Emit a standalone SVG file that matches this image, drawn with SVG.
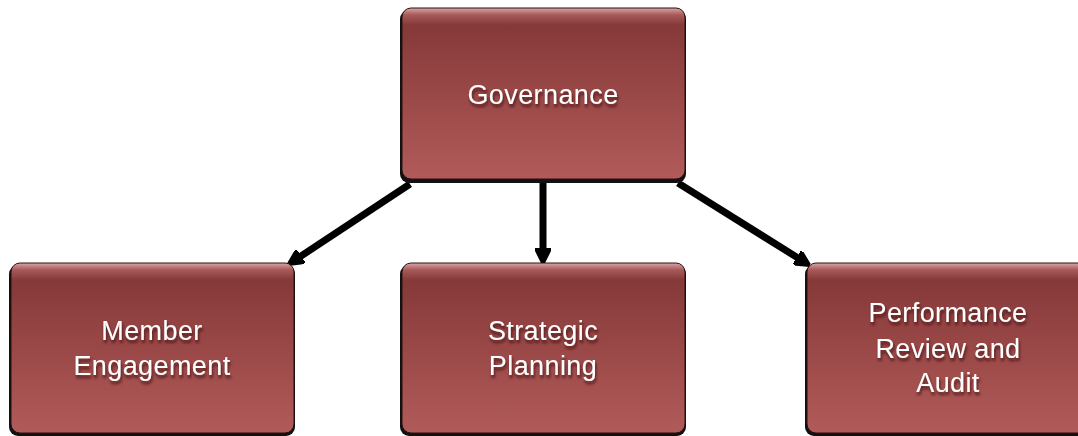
<svg xmlns="http://www.w3.org/2000/svg" width="1078" height="436" viewBox="0 0 1078 436">
<defs>
<linearGradient id="fill" x1="0" y1="0" x2="0" y2="1">
<stop offset="0" stop-color="#d9a5a5"/>
<stop offset="0.04" stop-color="#a85a5a"/>
<stop offset="0.1" stop-color="#863939"/>
<stop offset="1" stop-color="#b15b59"/>
</linearGradient>
<filter id="ts" x="-10%" y="-30%" width="120%" height="160%">
<feDropShadow dx="1" dy="3" stdDeviation="1.5" flood-color="#3a0d0d" flood-opacity="0.8"/>
</filter>
<marker id="ah" viewBox="0 0 10 10" refX="7" refY="5" markerWidth="2.2" markerHeight="2.2" orient="auto" markerUnits="strokeWidth">
<path d="M0,0 L10,5 L0,10 Z" fill="#000" stroke="#000" stroke-width="2" stroke-linejoin="round"/>
</marker>
</defs>
<style>
.sh{fill:#111;}
.bx{fill:url(#fill);stroke:#2a1010;stroke-width:1;}
.tx{fill:#ffffff;font-family:"Liberation Sans",Arial,sans-serif;font-size:27px;letter-spacing:0.4px;text-anchor:middle;filter:url(#ts);}
.cn{stroke:#000;stroke-width:7;fill:none;marker-end:url(#ah);}
</style>
<g id="connectors">
<line class="cn" x1="410" y1="184" x2="292" y2="262"/>
<line class="cn" x1="543" y1="180" x2="543" y2="259"/>
<line class="cn" x1="678" y1="183" x2="806" y2="263"/>
</g>
<g id="governance">
<rect class="sh" x="400" y="10" width="286" height="173" rx="9"/>
<rect class="bx" x="402" y="8" width="283" height="171" rx="9"/>
<text class="tx" x="543" y="104">Governance</text>
</g>
<g id="member-engagement">
<rect class="sh" x="9" y="265" width="286" height="171" rx="9"/>
<rect class="bx" x="11" y="263" width="283" height="170" rx="9"/>
<text class="tx" x="152" y="340">Member</text>
<text class="tx" x="152" y="375">Engagement</text>
</g>
<g id="strategic-planning">
<rect class="sh" x="400" y="265" width="286" height="171" rx="9"/>
<rect class="bx" x="402" y="263" width="283" height="170" rx="9"/>
<text class="tx" x="543" y="340">Strategic</text>
<text class="tx" x="543" y="375">Planning</text>
</g>
<g id="performance-review">
<rect class="sh" x="805" y="265" width="286" height="171" rx="9"/>
<rect class="bx" x="807" y="263" width="283" height="170" rx="9"/>
<text class="tx" x="948" y="322">Performance</text>
<text class="tx" x="948" y="358">Review and</text>
<text class="tx" x="948" y="392">Audit</text>
</g>
</svg>
